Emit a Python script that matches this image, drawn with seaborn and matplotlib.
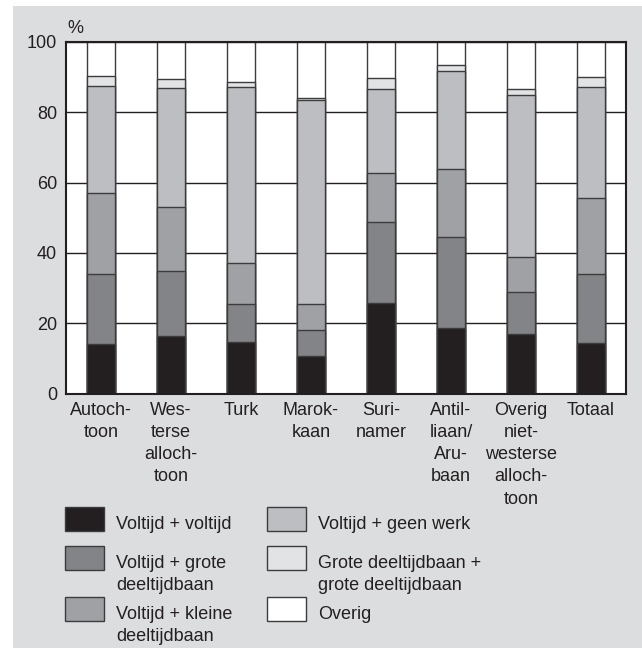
import numpy as np
import pandas as pd
import matplotlib
matplotlib.use("Agg")
import matplotlib.pyplot as plt
from matplotlib.patches import Rectangle
import seaborn as sns

# categories (tick labels as printed, with hyphenation)
categories = ["Autoch-\ntoon", "Wes-\nterse\nalloch-\ntoon", "Turk", "Marok-\nkaan",
              "Suri-\nnamer", "Antil-\nliaan/\nAru-\nbaan",
              "Overig\nniet-\nwesterse\nalloch-\ntoon", "Totaal"]

# segment shares in % (bottom to top)
voltijd_voltijd = [14.0, 16.3, 14.6, 10.8, 25.7, 18.5, 16.8, 14.5]
voltijd_groot = [19.9, 18.6, 11.0, 7.4, 23.0, 26.0, 12.0, 19.4]
voltijd_klein = [23.2, 18.1, 11.4, 7.4, 14.0, 19.5, 10.0, 21.7]
voltijd_geen = [30.4, 33.9, 50.1, 57.8, 24.0, 27.7, 46.0, 31.7]
groot_groot = [2.9, 2.6, 1.6, 0.8, 3.0, 1.8, 1.7, 2.8]

series_names = ["Voltijd + voltijd", "Voltijd + grote\ndeeltijdbaan",
                "Voltijd + kleine\ndeeltijdbaan", "Voltijd + geen werk",
                "Grote deeltijdbaan +\ngrote deeltijdbaan", "Overig"]
colors = ["#231f20", "#838487", "#a0a1a4", "#bdbec1", "#e2e3e5", "#ffffff"]

df = pd.DataFrame({"cat": categories,
                   series_names[0]: voltijd_voltijd,
                   series_names[1]: voltijd_groot,
                   series_names[2]: voltijd_klein,
                   series_names[3]: voltijd_geen,
                   series_names[4]: groot_groot})
df[series_names[5]] = 100 - df[series_names[:5]].sum(axis=1)

# cumulative tops, drawn from the tallest down so lower segments overlay
cum = df[series_names].cumsum(axis=1)

sns.set_style("white")
plt.rcParams["font.family"] = ["Liberation Sans", "DejaVu Sans"]
FS = 13
INK = "#231f20"

W, H = 642, 648
fig = plt.figure(figsize=(W / 100, H / 100), dpi=100)
fig.patch.set_facecolor("white")
fig.patches.append(Rectangle((13 / W, 0), 1, 1 - 6 / H, transform=fig.transFigure,
                             facecolor="#dcdddf", edgecolor="none", zorder=-10))

ax = fig.add_axes([66 / W, 1 - 393.5 / H, 560 / W, 351.5 / H])
ax.set_facecolor("white")

for name, col in reversed(list(zip(series_names, colors))):
    sns.barplot(x=df["cat"], y=cum[name], color=col, width=0.4, ax=ax,
                edgecolor="#3c3c3e", linewidth=1.0, saturation=1)

ax.set_ylim(0, 100)
ax.set_xlim(-0.5, len(categories) - 0.5)
ax.set_yticks([0, 20, 40, 60, 80, 100])
ax.yaxis.grid(True, color=INK, linewidth=1.0)
ax.set_axisbelow(True)
ax.set_xlabel("")
ax.set_ylabel("")
ax.tick_params(axis="both", length=0, labelsize=FS, colors=INK)
ax.tick_params(axis="x", pad=6)
ax.tick_params(axis="y", pad=6.5)
for lbl in ax.get_xticklabels():
    lbl.set_linespacing(1.4)
for s in ax.spines.values():
    s.set_color(INK)
    s.set_linewidth(1.5)

ax.text(1 / 560, 1 + 5 / 351.5, "%", transform=ax.transAxes, fontsize=FS, ha="left",
        va="bottom", color=INK)

# legend drawn by hand: two columns, box aligned with the first text line
box_w, box_h = 39, 24
col_x = [65, 267]
row_y = [507, 546, 597]
for i, (name, col) in enumerate(zip(series_names, colors)):
    cx = col_x[i // 3]
    ry = row_y[i % 3]
    fig.patches.append(Rectangle((cx / W, 1 - (ry + box_h) / H), box_w / W, box_h / H,
                                 transform=fig.transFigure, facecolor=col,
                                 edgecolor="#3c3c3e", linewidth=1.0))
    fig.text((cx + box_w + 12) / W, 1 - (ry + 9) / H, name, fontsize=FS,
             ha="left", va="top", linespacing=1.4, color=INK)

fig.savefig("out.png", dpi=100)
